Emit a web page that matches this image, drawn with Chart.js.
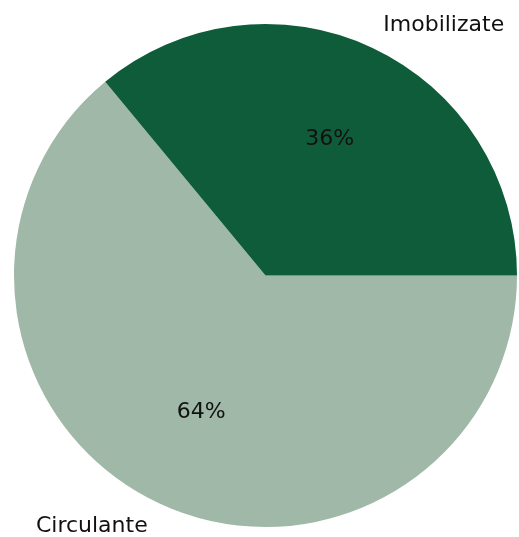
<!DOCTYPE html>
<html lang="ro">
<head>
  <meta charset="UTF-8">
  <title>Active</title>
  <script src="https://cdn.jsdelivr.net/npm/chart.js"></script>
  <style>
    html, body { margin: 0; padding: 0; background: #fff; }
    #wrap { width: 519px; height: 537px; }
  </style>
</head>
<body>
  <div id="wrap"><canvas id="pieChart" width="519" height="537"></canvas></div>

  <script>
    // data, in drawing order (clockwise from 3 o'clock)
    const labels = ['Circulante', 'Imobilizate'];
    const values = [64, 36];
    const colors = ['#a0b8a7', '#0f5c3b'];

    // draws the outer names and the percentages like matplotlib's autopct
    const pieText = {
      id: 'pieText',
      afterDatasetsDraw(chart) {
        const ctx = chart.ctx;
        const meta = chart.getDatasetMeta(0);
        const total = values.reduce((a, b) => a + b, 0);
        ctx.save();
        ctx.font = '22px "DejaVu Sans"';
        ctx.fillStyle = '#111';
        ctx.textBaseline = 'middle';
        meta.data.forEach((arc, i) => {
          const mid = (arc.startAngle + arc.endAngle) / 2;
          const r = arc.outerRadius;
          const cx = Math.cos(mid), cy = Math.sin(mid);
          // percentage at 0.6 r
          ctx.textAlign = 'center';
          const pct = Math.round(values[i] / total * 100) + '%';
          ctx.fillText(pct, arc.x + cx * r * 0.6, arc.y + cy * r * 0.6);
          // name at 1.1 r
          ctx.textAlign = cx >= 0 ? 'left' : 'right';
          ctx.fillText(labels[i], arc.x + cx * r * 1.1, arc.y + cy * r * 1.1);
        });
        ctx.restore();
      }
    };

    const ctx = document.getElementById('pieChart').getContext('2d');
    new Chart(ctx, {
      type: 'pie',
      data: {
        labels: labels,
        datasets: [{
          data: values,
          backgroundColor: colors,
          borderWidth: 0,
          hoverOffset: 0
        }]
      },
      options: {
        responsive: false,
        animation: false,
        rotation: 90,
        layout: { padding: { left: 14, right: 2, top: 24, bottom: 10 } },
        plugins: {
          legend: { display: false },
          tooltip: { enabled: false }
        }
      },
      plugins: [pieText]
    });
  </script>
</body>
</html>
